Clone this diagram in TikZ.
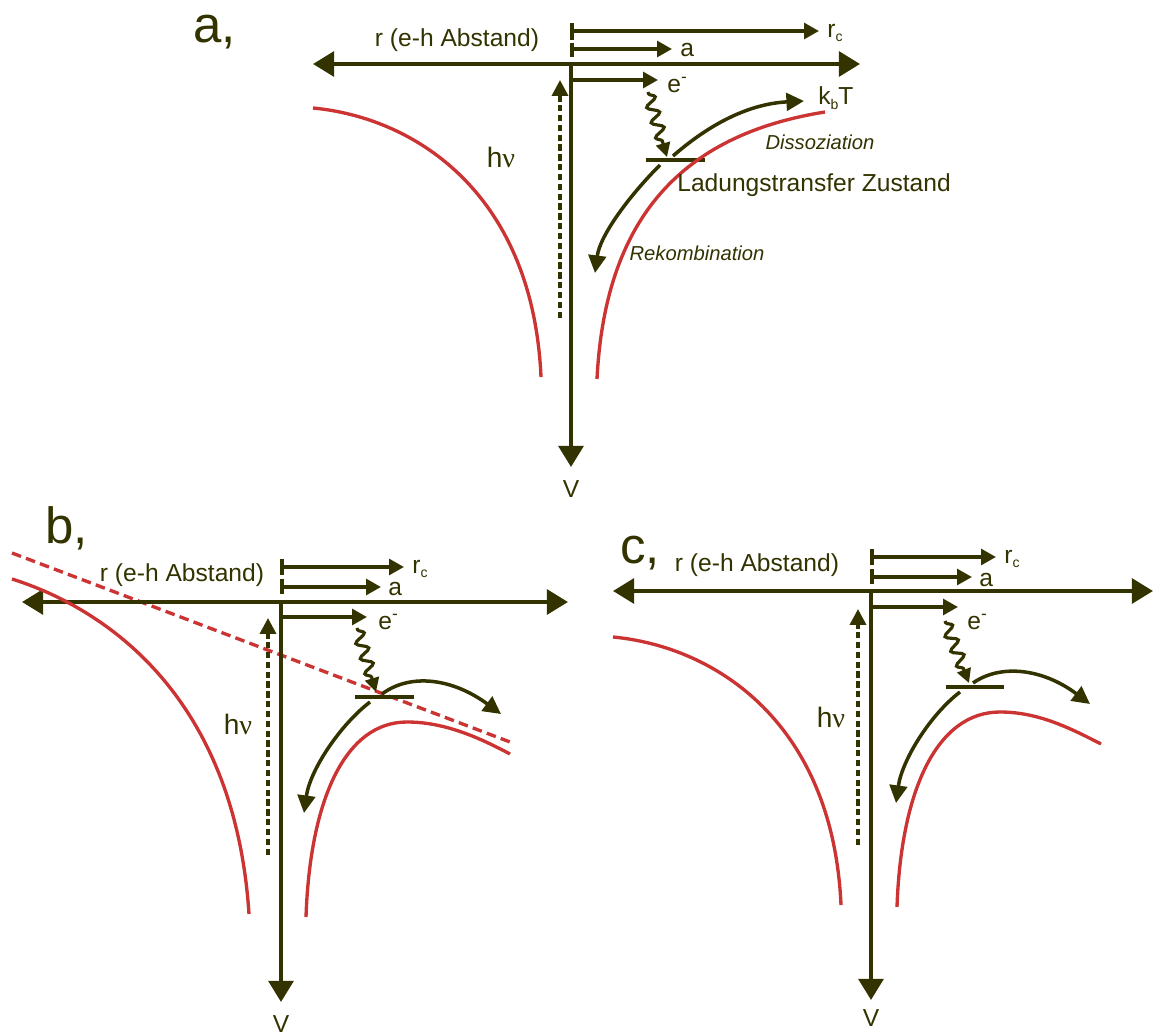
\documentclass[tikz,border=0pt]{standalone}
\usepackage{fontspec}
\setmainfont{Liberation Sans}
\newfontfamily\nufont{Liberation Serif}
\usetikzlibrary{arrows.meta,decorations.pathmorphing}
\definecolor{dk}{RGB}{51,51,0}
\definecolor{rd}{RGB}{204,51,51}
\newcommand{\lowsub}[1]{\raisebox{-0.35ex}{\fontsize{8}{8}\selectfont #1}}
\begin{document}
\begin{tikzpicture}[x=0.02cm,y=-0.02cm,
 axisln/.style={draw=dk,line width=2.4pt},
 onetip/.style={-{Triangle[length=12pt,width=14pt]}},
 twotips/.style={{Triangle[length=12pt,width=14pt]}-{Triangle[length=12pt,width=14pt]}},
 smallarr/.style={draw=dk,line width=1.9pt,-{Triangle[length=8.5pt,width=9pt]}},
 tickmark/.style={draw=dk,line width=1.9pt},
 wavy/.style={draw=dk,line width=1.8pt,decorate,decoration={snake,amplitude=3.2pt,segment length=9pt,pre length=1pt,post length=7pt},-{Triangle[length=8pt,width=8pt]}},
 level/.style={draw=dk,line width=2pt},
 procarr/.style={draw=dk,line width=2pt,-{Triangle[length=10pt,width=10pt]}},
 hvarr/.style={draw=dk,line width=2pt,dash pattern=on 3.6pt off 2pt,-{Triangle[length=9pt,width=9pt]}},
 pot/.style={draw=rd,line width=1.9pt},
 potdash/.style={draw=rd,line width=1.9pt,dash pattern=on 5.5pt off 3pt},
 lbl/.style={text=dk,inner sep=0pt,font=\fontsize{14}{16}\selectfont},
 biglbl/.style={text=dk,inner sep=0pt,font=\fontsize{16}{18}\selectfont},
 panel/.style={text=dk,inner sep=0pt,font=\fontsize{29}{32}\selectfont},
 proc/.style={text=dk,inner sep=0pt,font=\fontsize{11.5}{13}\selectfont\itshape},
]
\fill[white] (0,0) rectangle (1154,1034);
\useasboundingbox (0,0) rectangle (1154,1034);

% ================= panel a =================
\node[panel,anchor=base west] (alab) at (193,43) {a,};
\coordinate (aL) at (313,64);
\coordinate (aR) at (860,64);
\coordinate (aT) at (571,62);
\coordinate (aB) at (571,467);
\draw[axisln,twotips] (aL) -- (aR);
\draw[axisln,onetip] (aT) -- (aB);
\node[lbl,anchor=north] (aV) at (571,480) {V};
\node[lbl] (ar) at (457,40) {r (e-h Abstand)};
\coordinate (arc1) at (572,23); \coordinate (arc2) at (572,40);
\coordinate (aa1) at (572,43); \coordinate (aa2) at (572,57);
\draw[tickmark] (arc1) -- (arc2);
\draw[tickmark] (aa1) -- (aa2);
\coordinate (arcs) at (572,31); \coordinate (arce) at (819,31);
\coordinate (aas) at (572,49); \coordinate (aae) at (672,49);
\coordinate (aes) at (573,80); \coordinate (aee) at (658,80);
\draw[smallarr] (arcs) -- (arce);
\draw[smallarr] (aas) -- (aae);
\draw[smallarr] (aes) -- (aee);
\node[lbl,anchor=west] (arcl) at (827,33) {r\lowsub{c}};
\node[lbl,anchor=west] (aal) at (680,50) {a};
\node[lbl,anchor=west] (ael) at (667,85) {e\textsuperscript{-}};
\coordinate (aw1) at (648,92); \coordinate (aw2) at (667,157);
\draw[wavy] (aw1) -- (aw2);
\coordinate (alv1) at (646,160); \coordinate (alv2) at (705,160);
\draw[level] (alv1) -- (alv2);
\draw[pot] (313,108) .. controls (418,118) and (533,196) .. (541,377);
\draw[pot] (597,379) .. controls (605,220) and (680,135) .. (825,112);
\coordinate (ads) at (673,156); \coordinate (ade) at (804,101);
\draw[procarr] (ads) .. controls (705,128) and (745,104) .. (ade);
\coordinate (ars) at (660,165); \coordinate (are) at (595,273);
\draw[procarr] (ars) .. controls (630,195) and (600,235) .. (are);
\node[lbl,anchor=west] (akt) at (818,98) {k\lowsub{b}T};
\coordinate (ah1) at (560,318); \coordinate (ah2) at (560,80);
\draw[hvarr] (ah1) -- (ah2);
\node[biglbl] (ahv) at (501,157) {h{\nufont ν}};
\node[lbl,anchor=west] (act) at (677,185) {Ladungstransfer Zustand};
\node[proc] (adis) at (820,142) {Dissoziation};
\node[proc] (arek) at (697,253) {Rekombination};

% ================= panel b =================
\node[panel,anchor=base west] (blab) at (45,543) {b,};
\coordinate (bL) at (22,602);
\coordinate (bR) at (568,602);
\coordinate (bT) at (281,600);
\coordinate (bB) at (281,1002);
\draw[potdash] (12,553) -- (510,742);
\draw[axisln,twotips] (bL) -- (bR);
\draw[axisln,onetip] (bT) -- (bB);
\node[lbl,anchor=north] (bV) at (281,1015) {V};
\node[lbl] (br) at (182,575) {r (e-h Abstand)};
\coordinate (brc1) at (282,559); \coordinate (brc2) at (282,575);
\coordinate (ba1) at (282,579); \coordinate (ba2) at (282,594);
\draw[tickmark] (brc1) -- (brc2);
\draw[tickmark] (ba1) -- (ba2);
\coordinate (brcs) at (282,567); \coordinate (brce) at (404,567);
\coordinate (bas) at (282,587); \coordinate (bae) at (381,587);
\coordinate (bes) at (283,617); \coordinate (bee) at (367,617);
\draw[smallarr] (brcs) -- (brce);
\draw[smallarr] (bas) -- (bae);
\draw[smallarr] (bes) -- (bee);
\node[lbl,anchor=west] (brcl) at (412,569) {r\lowsub{c}};
\node[lbl,anchor=west] (bal) at (388,589) {a};
\node[lbl,anchor=west] (bel) at (378,622) {e\textsuperscript{-}};
\coordinate (bw1) at (357,628); \coordinate (bw2) at (376,692);
\draw[wavy] (bw1) -- (bw2);
\coordinate (blv1) at (355,697); \coordinate (blv2) at (414,697);
\draw[level] (blv1) -- (blv2);
\draw[pot] (12,579) .. controls (110,610) and (235,700) .. (249,914);
\draw[pot] (306,917) .. controls (310,800) and (345,722) .. (407,722) .. controls (445,722) and (480,738) .. (510,754);
\coordinate (bds) at (382,694); \coordinate (bde) at (501,714);
\draw[procarr] (bds) .. controls (410,673) and (452,678) .. (bde);
\coordinate (brs) at (370,702); \coordinate (bre) at (304,813);
\draw[procarr] (brs) .. controls (340,725) and (310,770) .. (bre);
\coordinate (bh1) at (268,855); \coordinate (bh2) at (268,618);
\draw[hvarr] (bh1) -- (bh2);
\node[biglbl] (bhv) at (238,724) {h{\nufont ν}};

% ================= panel c =================
\node[panel,anchor=base west] (clab) at (620,563) {c,};
\coordinate (cL) at (613,591);
\coordinate (cR) at (1153,591);
\coordinate (cT) at (871,589);
\coordinate (cB) at (871,1000);
\draw[axisln,twotips] (cL) -- (cR);
\draw[axisln,onetip] (cT) -- (cB);
\node[lbl,anchor=north] (cV) at (871,1009) {V};
\node[lbl] (cr) at (757,565) {r (e-h Abstand)};
\coordinate (crc1) at (872,549); \coordinate (crc2) at (872,565);
\coordinate (ca1) at (872,569); \coordinate (ca2) at (872,584);
\draw[tickmark] (crc1) -- (crc2);
\draw[tickmark] (ca1) -- (ca2);
\coordinate (crcs) at (872,557); \coordinate (crce) at (996,557);
\coordinate (cas) at (872,577); \coordinate (cae) at (972,577);
\coordinate (ces) at (873,607); \coordinate (cee) at (958,607);
\draw[smallarr] (crcs) -- (crce);
\draw[smallarr] (cas) -- (cae);
\draw[smallarr] (ces) -- (cee);
\node[lbl,anchor=west] (crcl) at (1004,559) {r\lowsub{c}};
\node[lbl,anchor=west] (cal) at (979,580) {a};
\node[lbl,anchor=west] (cel) at (967,622) {e\textsuperscript{-}};
\coordinate (cw1) at (945,621); \coordinate (cw2) at (969,683);
\draw[wavy] (cw1) -- (cw2);
\coordinate (clv1) at (946,687); \coordinate (clv2) at (1004,687);
\draw[level] (clv1) -- (clv2);
\draw[pot] (613,637) .. controls (718,647) and (833,725) .. (841,905);
\draw[pot] (897,907) .. controls (901,790) and (937,712) .. (1000,712) .. controls (1038,712) and (1070,728) .. (1101,744);
\coordinate (cds) at (973,683); \coordinate (cde) at (1090,704);
\draw[procarr] (cds) .. controls (1000,664) and (1042,668) .. (cde);
\coordinate (crs) at (960,692); \coordinate (cre) at (896,803);
\draw[procarr] (crs) .. controls (930,715) and (902,760) .. (cre);
\coordinate (ch1) at (858,845); \coordinate (ch2) at (858,609);
\draw[hvarr] (ch1) -- (ch2);
\node[biglbl] (chv) at (831,717) {h{\nufont ν}};
\end{tikzpicture}
\end{document}
